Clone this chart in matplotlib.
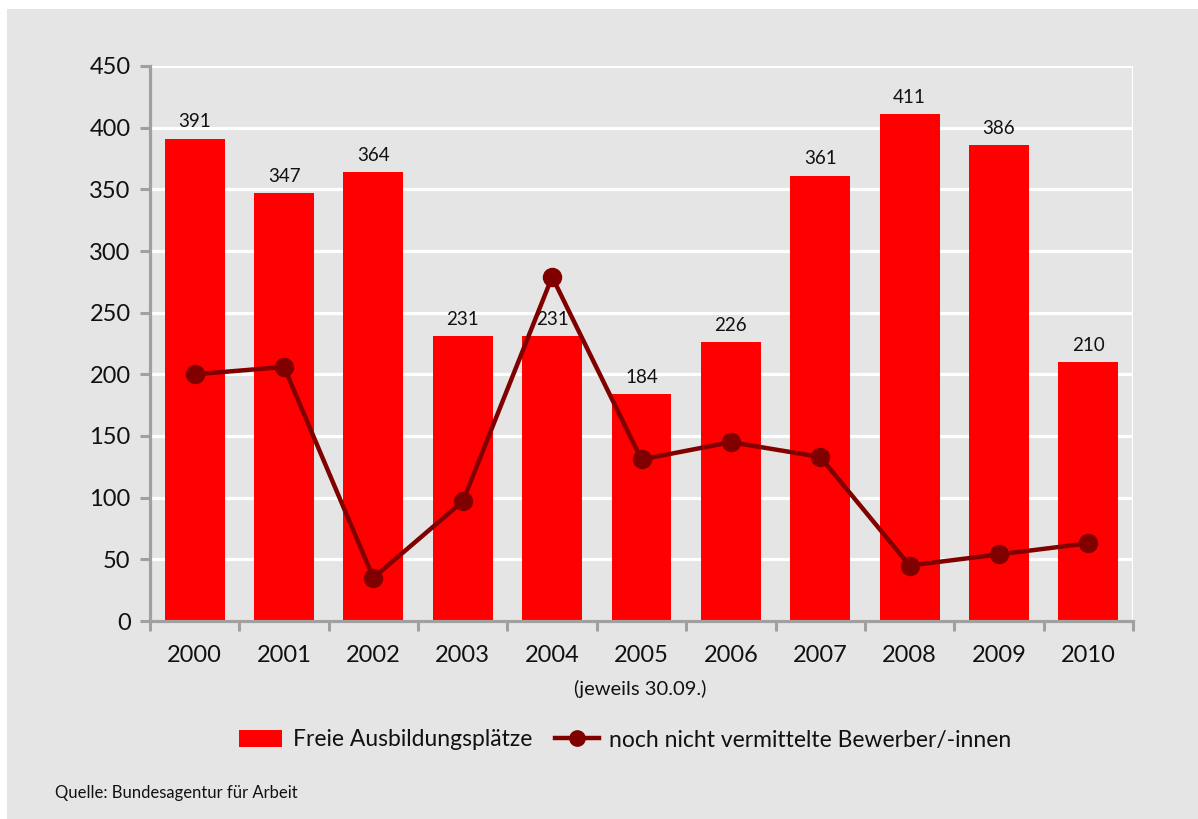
import matplotlib
matplotlib.use("Agg")
import matplotlib.pyplot as plt
import numpy as np
from matplotlib.patches import Rectangle, Patch
from matplotlib.lines import Line2D

plt.rcParams["font.family"] = ["Lato", "DejaVu Sans"]

years = ["2000", "2001", "2002", "2003", "2004", "2005",
         "2006", "2007", "2008", "2009", "2010"]
freie_plaetze = [391, 347, 364, 231, 231, 184, 226, 361, 411, 386, 210]
unvermittelt = [200, 206, 35, 97, 279, 131, 145, 133, 45, 54, 63]

bar_color = "#ff0000"
line_color = "#800000"
bg = "#e5e5e5"
axis_gray = "#a0a0a0"

fig = plt.figure(figsize=(11.98, 8.19), dpi=100)
fig.patch.set_facecolor("white")
fig.patches.append(Rectangle((7 / 1198, 0), 1, 1 - 9 / 819,
                             transform=fig.transFigure, facecolor=bg,
                             edgecolor="none", zorder=-10))

ax = fig.add_axes([150 / 1198, 1 - 621 / 819, 983 / 1198, 555 / 819])
ax.set_facecolor(bg)

x = np.arange(len(years))
ax.bar(x, freie_plaetze, width=0.67, color=bar_color, zorder=2)
ax.plot(x, unvermittelt, color=line_color, lw=3.2, marker="o",
        markersize=13, zorder=5)

# value labels above the bars
for xi, v in zip(x, freie_plaetze):
    ax.annotate(str(v), (xi, v), xytext=(0, 6), textcoords="offset points",
                ha="center", va="bottom", fontsize=13.5, color="#111111",
                zorder=3)

ax.set_xlim(-0.5, len(years) - 0.5)
ax.set_ylim(0, 450)
ax.set_yticks(np.arange(0, 451, 50))
ax.set_xticks(x)
ax.set_xticklabels(years)
ax.set_xticks(np.arange(-0.5, len(years), 1), minor=True)

ax.grid(axis="y", color="white", lw=2.3, zorder=1)
ax.set_axisbelow(True)
ax.axvline(len(years) - 0.5, color="white", lw=2.3, zorder=1)

for s in ["top", "right"]:
    ax.spines[s].set_visible(False)
for s in ["left", "bottom"]:
    ax.spines[s].set_color(axis_gray)
    ax.spines[s].set_linewidth(2.3)
    ax.spines[s].set_zorder(4)

ax.tick_params(axis="y", which="major", direction="out", length=7,
               width=2.2, color=axis_gray, labelsize=17, pad=7,
               labelcolor="#111111")
ax.tick_params(axis="x", which="major", length=0, labelsize=17, pad=17,
               labelcolor="#111111")
ax.tick_params(axis="x", which="minor", direction="out", length=7,
               width=2.2, color=axis_gray)

fig.text(640 / 1198, 1 - 689 / 819, "(jeweils 30.09.)", ha="center",
         va="center", fontsize=14.5, color="#111111")
fig.text(55 / 1198, 1 - 793 / 819, "Quelle: Bundesagentur für Arbeit",
         ha="left", va="center", fontsize=12, color="#111111")

handles = [Patch(facecolor=bar_color, edgecolor="none"),
           Line2D([], [], color=line_color, lw=3.2, marker="o", markersize=11)]
labels = ["Freie Ausbildungsplätze", "noch nicht vermittelte Bewerber/-innen"]
fig.legend(handles, labels, loc="center",
           bbox_to_anchor=(625 / 1198, 1 - 740 / 819), ncol=2,
           frameon=False, fontsize=16.5, handlelength=1.9, handleheight=0.72,
           handletextpad=0.45, columnspacing=1.0, labelcolor="#111111")

fig.savefig("out.png", dpi=100, facecolor=fig.get_facecolor())
